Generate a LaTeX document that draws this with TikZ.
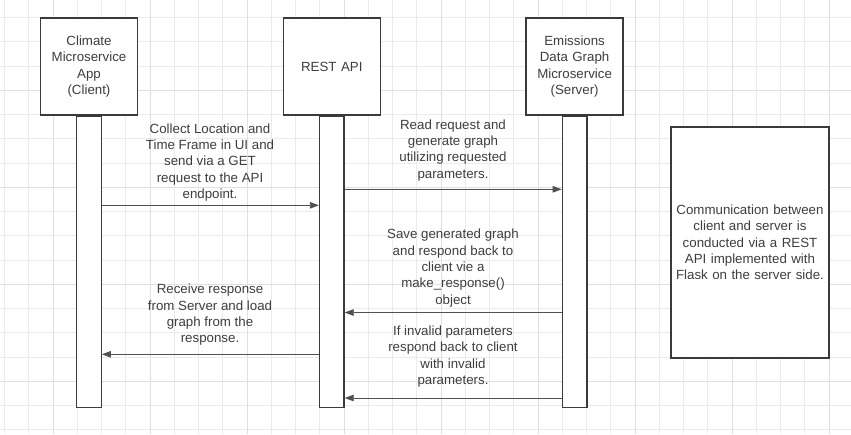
\documentclass[tikz,border=0pt]{standalone}
\usepackage{fontspec}
\setmainfont{Liberation Sans}
\usetikzlibrary{arrows.meta}
\definecolor{gridgray}{HTML}{EBEBEB}
\definecolor{gridmajor}{HTML}{E0E0E0}
\definecolor{linegray}{HTML}{3A3A3A}
\definecolor{textgray}{HTML}{3E3E3E}
\definecolor{arrowgray}{HTML}{505050}
\newcommand\diagfont{\fontsize{13.3}{16.3}\selectfont}
\newcommand{\sendmsg}[3]{%
	\draw [msg] (#1 |- 0,#3) -- (#2 |- 0,#3);
}

\begin{document}
\begin{tikzpicture}[x=1pt, y=-1pt,
	actor/.style={draw=linegray, line width=1.3pt, fill=white, minimum width=97pt, minimum height=97pt, text width=90pt, inner sep=0pt, align=center, font=\diagfont, text=textgray},
	lifebar/.style={draw=linegray, line width=1.3pt, fill=white, minimum width=24.5pt, minimum height=291pt, inner sep=0pt},
	notebox/.style={draw=linegray, line width=1.3pt, fill=white, minimum width=158pt, minimum height=231pt, text width=152pt, inner sep=0pt, align=center, font=\diagfont, text=textgray},
	msgtext/.style={align=center, font=\diagfont, text=textgray, inner sep=0pt},
	msg/.style={draw=arrowgray, line width=0.8pt, -{Triangle[length=9pt,width=6.5pt]}},
	gridline/.style={draw=gridgray, line width=0.8pt},
	gridbold/.style={draw=gridmajor, line width=1pt}]
	
	\useasboundingbox (0,0) rectangle (851,434);
	\fill [white] (0,0) rectangle (851,434);
	
	% background grid
	\foreach \i in {0,...,35}
		\draw [gridline] (4.5+24.25*\i,0) -- (4.5+24.25*\i,434);
	\foreach \i in {0,...,17}
		\draw [gridline] (0,17.4+24.25*\i) -- (851,17.4+24.25*\i);
	\foreach \gx in {53,150,...,829}
		\draw [gridbold] (\gx,0) -- (\gx,434);
	\foreach \gy in {90.2,187.2,284.2,381.2}
		\draw [gridbold] (0,\gy) -- (851,\gy);
	
	% participants
	\node [actor] (client) at (89,66.5) {Climate\\Microservice\\App\\(Client)};
	\node [actor] (api) at (331.8,66.5) {REST API};
	\node [actor] (server) at (574.6,66.5) {Emissions\\Data Graph\\Microservice\\(Server)};
	
	\node [lifebar, anchor=north] (clientbar) at (client.south) {};
	\node [lifebar, anchor=north] (apibar) at (api.south) {};
	\node [lifebar, anchor=north] (serverbar) at (server.south) {};
	
	% messages
	\node [msgtext] (collecttext) at (210,162.3) {Collect Location and\\Time Frame in UI and\\send via a GET\\request to the API\\endpoint.};
	\sendmsg{clientbar.east}{apibar.west}{205.3}
	
	\node [msgtext] (readtext) at (453,150.3) {Read request and\\generate graph\\utilizing requested\\parameters.};
	\sendmsg{apibar.east}{serverbar.west}{189.3}
	
	\node [msgtext] (savetext) at (453,268) {Save generated graph\\and respond back to\\client vie a\\make\_response()\\object};
	\sendmsg{serverbar.west}{apibar.east}{312.5}
	
	\node [msgtext] (invalidtext) at (453,356.7) {If invalid parameters\\respond back to client\\with invalid\\parameters.};
	\sendmsg{serverbar.west}{apibar.east}{398}
	
	\node [msgtext] (receivetext) at (210,315) {Receive response\\from Server and load\\graph from the\\response.};
	\sendmsg{apibar.west}{clientbar.east}{354.3}
	
	% side note
	\node [notebox] (note) at (750,242.5) {Communication between\\client and server is\\conducted via a REST\\API implemented with\\Flask on the server side.};
	
\end{tikzpicture}
\end{document}
